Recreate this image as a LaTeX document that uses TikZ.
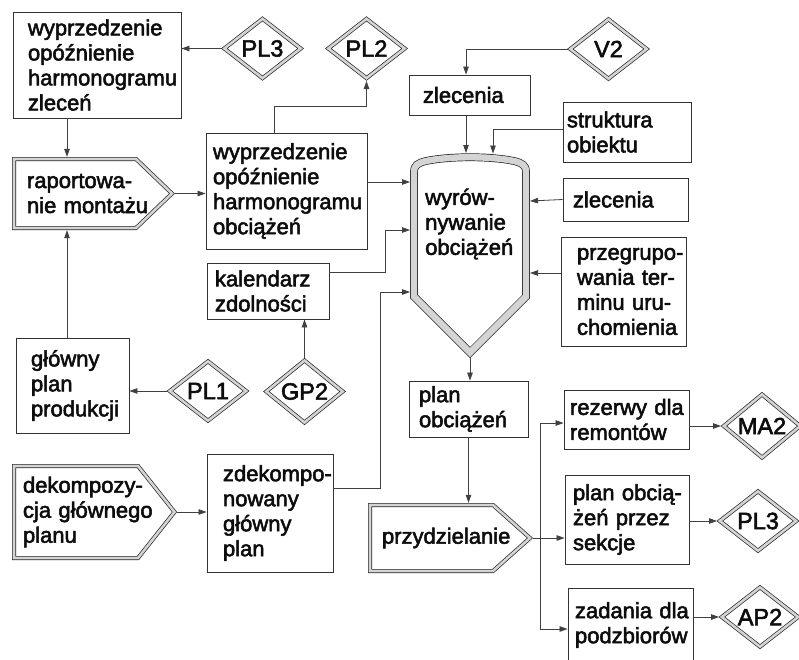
\documentclass[tikz,border=0pt]{standalone}
\usepackage{fontspec}
\setmainfont{Liberation Sans}[FakeBold=2.4]
\usetikzlibrary{shapes.geometric,arrows.meta}
\hyphenpenalty=10000
\exhyphenpenalty=10000
\begin{document}
\begin{tikzpicture}[x=1pt,y=-1pt,
  every node/.style={font=\fontsize{22pt}{25pt}\selectfont, inner sep=0pt, text=black!95},
  box/.style={draw=black!80, line width=0.9pt, align=left, fill=white},
  lbl/.style={align=left},
  ln/.style={draw=black!75, line width=0.8pt},
  arr/.style={ln, -{Triangle[length=8pt,width=5.5pt]}},
  dbl/.style={draw=black!85, line width=0.7pt, double=black!17, double distance=2.6pt},
  wdbl/.style={draw=black!85, line width=0.7pt, double=black!17, double distance=6.4pt},
  gem/.style={diamond, dbl, fill=white, minimum width=78pt, minimum height=61pt, outer sep=2pt,
    font=\fontsize{23.5pt}{25pt}\selectfont},
]
\clip (0,0) rectangle (799,659);
\fill[white] (0,0) rectangle (799,659);

% ---- rectangular boxes ----
\node[box, text width=138pt, inner xsep=15pt, minimum height=106pt] (b1) at (97,65)
  {wyprzedzenie\\opóźnienie\\harmonogramu\\zleceń};
\node[box, text width=147pt, inner xsep=7pt, minimum height=116pt] (b2) at (286.5,191)
  {wyprzedzenie\\opóźnienie\\harmonogramu\\obciążeń};
\node[box, text width=106pt, inner xsep=8pt, minimum height=56pt] (kal) at (268,291)
  {kalendarz\\zdolności};
\node[box, text width=83pt, inner xsep=15pt, minimum height=95pt] (glow) at (72.5,385.5)
  {główny\\plan\\produkcji};
\node[box, text width=94pt, inner xsep=16pt, minimum height=118pt] (zdek) at (270,513)
  {zdekompo-\\nowany\\główny\\plan};
\node[box, text width=93pt, inner xsep=14pt, minimum height=40pt] (zl1) at (469.5,95)
  {zlecenia};
\node[box, text width=120pt, inner xsep=4pt, minimum height=60pt] (str) at (627,132)
  {struktura\\obiektu};
\node[box, text width=105pt, inner xsep=10pt, minimum height=43pt] (zl2) at (625.5,199.5)
  {zlecenia};
\node[box, text width=93pt, inner xsep=16pt, minimum height=109pt] (prz) at (623.5,291.5)
  {przegrupo-\\wania~ter-\\minu~uru-\\chomienia};
\node[box, text width=99pt, inner xsep=10pt, minimum height=56pt] (plan) at (468.5,409)
  {plan\\obciążeń};
\node[box, text width=113pt, inner xsep=6pt, minimum height=59pt] (rez) at (626.5,419.5)
  {rezerwy~dla\\remontów};
\node[box, text width=108pt, inner xsep=8pt, minimum height=89pt] (pos) at (627,519.5)
  {plan~obcią-\\żeń~przez\\sekcje};
\node[box, text width=111pt, inner xsep=7pt, minimum height=74pt] (zad) at (630.5,625)
  {zadania~dla\\podzbiorów};

% ---- process shapes (pointed boxes) ----
\draw[dbl, fill=white] (14,159) -- (136,159) -- (172,193.5) -- (136,228) -- (14,228) -- cycle;
\node[lbl, text width=94pt, inner xsep=15pt, minimum height=73pt] (rap) at (74,193.5)
  {raportowa-\\nie~montażu};
\coordinate (raptip) at (175,193.5);

\draw[dbl, fill=white] (14,466) -- (138,466) -- (174.5,512) -- (138,558) -- (14,558) -- cycle;
\node[lbl, text width=103pt, inner xsep=11pt, minimum height=96pt] (dek) at (74.5,512)
  {dekompozy-\\cja~głównego\\planu};
\coordinate (dektip) at (177,512);

\draw[dbl, fill=white] (370,505) -- (493,505) -- (530,538) -- (493,571) -- (370,571) -- cycle;
\node[lbl, text width=96pt, inner xsep=14pt, minimum height=70pt] (prd) at (430,538)
  {przydzielanie};
\coordinate (prdtip) at (533,538);

% ---- levelling vessel ----
\draw[wdbl, fill=white] (414,296.5) -- (414,172)
  .. controls (414,165) and (418,163) .. (426,161)
  .. controls (450,156) and (490,156) .. (514,161)
  .. controls (522,163) and (526,165) .. (526,172)
  -- (526,296.5) -- (470,352.5) -- cycle;
\node[lbl, anchor=west] (ves) at (425,224) {wyrów-\\nywanie\\obciążeń};
\coordinate (vT1) at (466,153);
\coordinate (vT2) at (493,153.5);
\coordinate (vL1) at (410,182);
\coordinate (vL2) at (410,230);
\coordinate (vL3) at (410,292);
\coordinate (vR1) at (530,201);
\coordinate (vR2) at (530,273);
\coordinate (vB) at (470,358);
\coordinate (fork) at (540,538);

% ---- data stores ----
\node[gem] (pl3a) at (262.5,48.5) {PL3};
\node[gem] (pl2) at (366.5,48.5) {PL2};
\node[gem] (v2) at (608.5,49) {V2};
\node[gem] (pl1) at (208,391) {PL1};
\node[gem] (gp2) at (304.5,391.5) {GP2};
\node[gem] (ma2) at (762,426) {MA2};
\node[gem] (pl3b) at (758,521) {PL3};
\node[gem] (ap2) at (760,617) {AP2};

% ---- connectors ----
\draw[arr] (pl3a.west) -- (pl3a.west -| b1.east);
\draw[arr] ([xshift=-12.5pt]b2.north) -- ++(0,-26) -| (pl2.south);
\draw[arr] ([xshift=-30pt]b1.south) -- ([xshift=-30pt]b1.south |- rap.north);
\draw[arr] (raptip) -- (raptip -| b2.west);
\draw[arr] ([xshift=-5.5pt]glow.north) -- ([xshift=-5.5pt]glow.north |- rap.south);
\draw[arr] (pl1.west) -- (pl1.west -| glow.east);
\draw[arr] (gp2.north) -- (gp2.north |- kal.south);
\draw[arr] (dektip) -- (dektip -| zdek.west);
\draw[arr] (vL1 -| b2.east) -- (vL1);
\draw[arr] ([yshift=19pt]kal.east) -| ([xshift=-25pt]vL2) -- (vL2);
\draw[arr] ([yshift=25pt]zdek.east) -| ([xshift=-30pt]vL3) -- (vL3);
\draw[arr] (v2.west) -| ([xshift=-3.5pt]zl1.north);
\draw[arr] ([xshift=-3.5pt]zl1.south) -- (vT1);
\draw[arr] ([yshift=3pt]str.west) -| (vT2);
\draw[arr] (zl2.west) -- (vR1);
\draw[arr] ([yshift=18.5pt]prz.west) -- (vR2);
\draw[arr] (vB) -- (vB |- plan.north);
\draw[arr] (plan.south) -- (plan.south |- prd.north);
\draw[ln] (prdtip) -- (fork);
\draw[arr] (fork) -- ([yshift=-18.5pt]pos.west);
\draw[arr] (fork) |- ([yshift=-3.5pt]rez.west);
\draw[arr] (fork) |- ([yshift=-4pt]zad.west);
\draw[arr] (ma2.west -| rez.east) -- (ma2.west);
\draw[arr] (pl3b.west -| pos.east) -- (pl3b.west);
\draw[arr] (ap2.west -| zad.east) -- (ap2.west);
\end{tikzpicture}
\end{document}
